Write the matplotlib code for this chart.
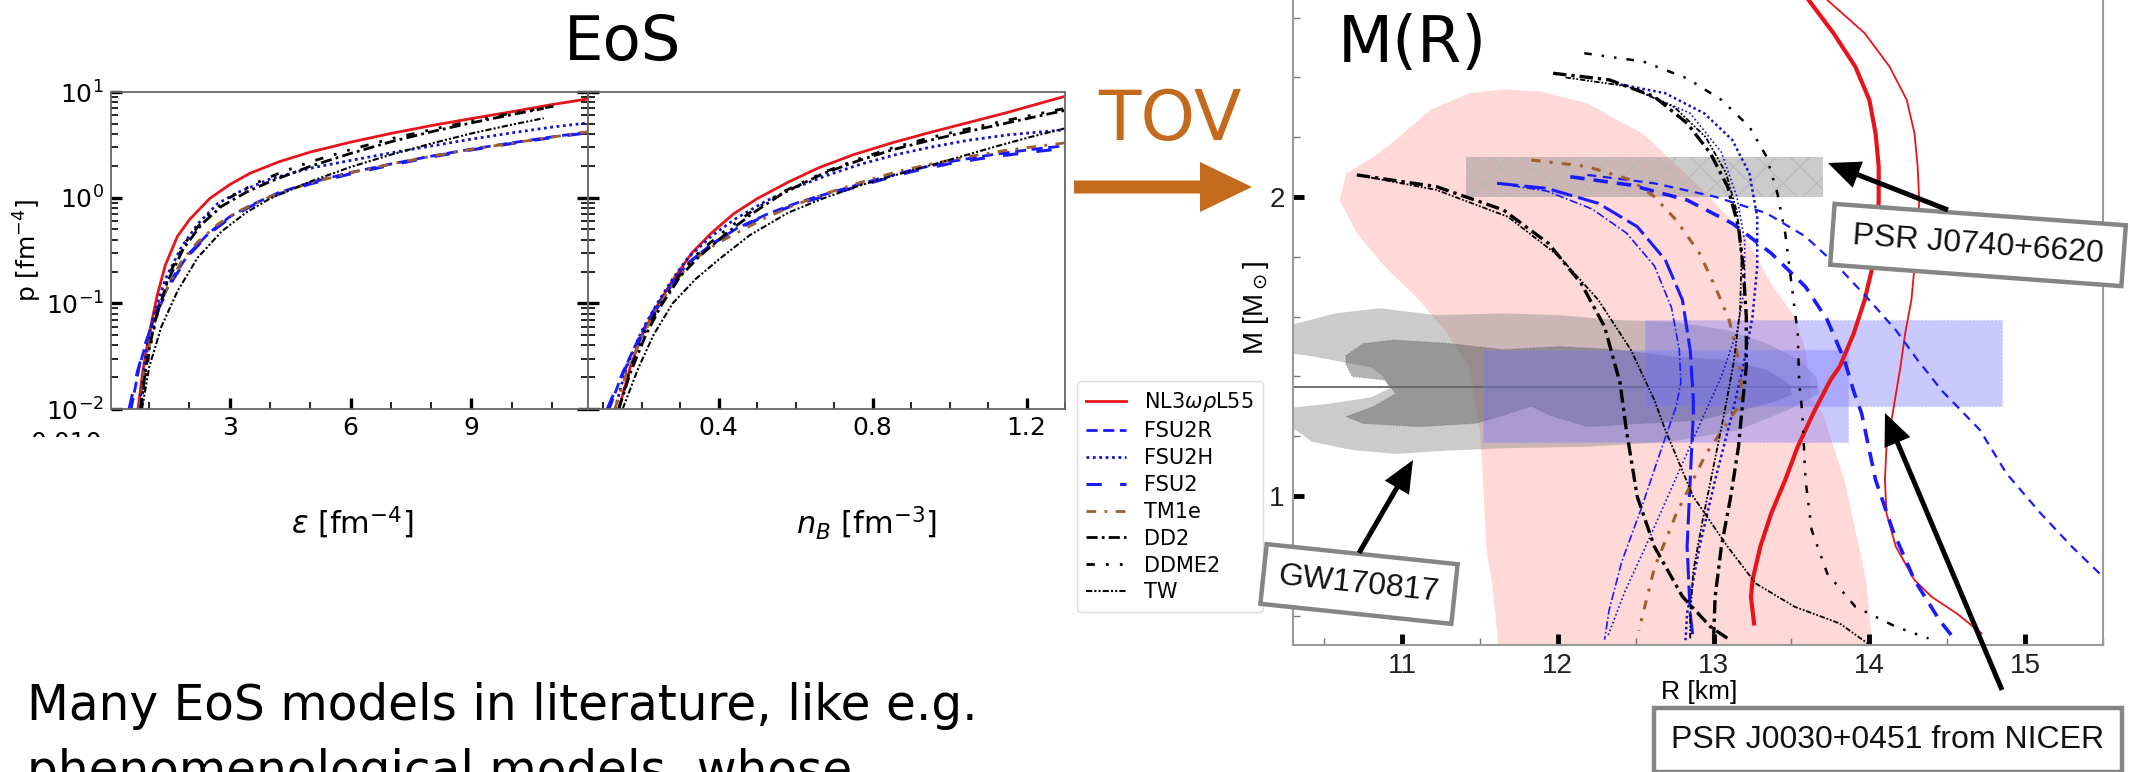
import matplotlib
matplotlib.use("Agg")
import matplotlib.pyplot as plt
from matplotlib.patches import Polygon, Rectangle, FancyArrow
from matplotlib.ticker import MultipleLocator
from matplotlib.transforms import Bbox
import numpy as np

W, H, DPI = 2130, 772, 100

# ---------------------------------------------------------------- EoS data
model_names = ["NL3$\\omega\\rho$L55", "FSU2R", "FSU2H", "FSU2", "TM1e", "DD2", "DDME2", "TW"]

# pressure vs energy density  (eps, p in fm^-4)
eps_NL3 = [0.72, 0.85, 1.0, 1.2, 1.4, 1.7, 2.0, 2.5, 3.0, 3.5, 4.2, 5.0, 6.0, 7.0, 8.0, 9.0, 10.0, 11.0, 11.9]
pe_NL3 = [0.010, 0.024, 0.052, 0.12, 0.23, 0.43, 0.62, 0.98, 1.33, 1.70, 2.17, 2.70, 3.35, 4.05, 4.80, 5.60, 6.50, 7.60, 8.60]
eps_FSU2R = [0.55, 0.75, 0.95, 1.2, 1.6, 2.0, 2.5, 3.0, 3.5, 4.2, 5.0, 6.0, 7.0, 8.0, 9.0, 10.0, 11.0, 11.9]
pe_FSU2R = [0.010, 0.025, 0.046, 0.090, 0.18, 0.30, 0.47, 0.66, 0.84, 1.11, 1.39, 1.73, 2.08, 2.47, 2.88, 3.30, 3.76, 4.18]
eps_FSU2H = [0.75, 0.9, 1.1, 1.4, 1.8, 2.2, 2.7, 3.2, 4.0, 5.0, 6.0, 7.0, 8.0, 9.0, 10.0, 11.0, 11.9]
pe_FSU2H = [0.010, 0.030, 0.075, 0.17, 0.34, 0.56, 0.88, 1.12, 1.50, 1.90, 2.25, 2.65, 3.08, 3.58, 4.10, 4.65, 5.10]
eps_FSU2 = [0.5, 0.7, 0.9, 1.2, 1.6, 2.0, 2.5, 3.0, 3.5, 4.2, 5.0, 6.0, 7.0, 8.0, 9.0, 10.0, 11.0, 11.9]
pe_FSU2 = [0.010, 0.022, 0.041, 0.085, 0.17, 0.29, 0.46, 0.64, 0.82, 1.08, 1.35, 1.68, 2.03, 2.42, 2.83, 3.25, 3.70, 4.12]
eps_TM1e = [0.75, 0.9, 1.1, 1.4, 1.8, 2.2, 2.7, 3.2, 4.0, 5.0, 6.0, 7.0, 8.0, 9.0, 10.0, 11.0, 11.9]
pe_TM1e = [0.010, 0.026, 0.06, 0.13, 0.25, 0.38, 0.56, 0.74, 1.02, 1.38, 1.72, 2.08, 2.46, 2.86, 3.28, 3.74, 4.20]
eps_DD2 = [0.78, 0.95, 1.15, 1.45, 1.85, 2.3, 2.8, 3.4, 4.0, 5.0, 6.0, 7.0, 8.0, 9.0, 10.0, 10.8]
pe_DD2 = [0.010, 0.030, 0.07, 0.16, 0.33, 0.56, 0.83, 1.12, 1.42, 1.98, 2.62, 3.38, 4.20, 5.10, 6.10, 7.00]
eps_DDME2 = [0.8, 1.0, 1.2, 1.5, 1.9, 2.4, 3.0, 3.6, 4.3, 5.0, 6.0, 7.0, 8.0, 9.0, 10.0, 11.2]
pe_DDME2 = [0.010, 0.035, 0.08, 0.19, 0.38, 0.65, 1.0, 1.35, 1.75, 2.18, 2.85, 3.60, 4.40, 5.30, 6.30, 7.50]
eps_TW = [0.82, 1.0, 1.3, 1.7, 2.2, 2.8, 3.4, 4.0, 5.0, 6.0, 7.0, 8.0, 9.0, 10.0, 10.8]
pe_TW = [0.010, 0.025, 0.06, 0.13, 0.27, 0.48, 0.72, 0.98, 1.42, 1.95, 2.55, 3.25, 4.05, 4.90, 5.65]

# pressure vs baryon density  (n_B in fm^-3, p in fm^-4)
nb_NL3 = [0.14, 0.17, 0.20, 0.24, 0.28, 0.33, 0.38, 0.44, 0.50, 0.58, 0.66, 0.75, 0.85, 0.95, 1.05, 1.15, 1.25, 1.30]
pn_NL3 = [0.010, 0.025, 0.050, 0.095, 0.165, 0.30, 0.46, 0.71, 0.98, 1.40, 1.92, 2.55, 3.30, 4.15, 5.15, 6.40, 8.10, 9.10]
nb_FSU2R = [0.115, 0.15, 0.19, 0.23, 0.27, 0.32, 0.38, 0.45, 0.53, 0.61, 0.71, 0.81, 0.91, 1.01, 1.11, 1.21, 1.30]
pn_FSU2R = [0.010, 0.022, 0.045, 0.085, 0.14, 0.24, 0.36, 0.52, 0.71, 0.91, 1.17, 1.49, 1.86, 2.22, 2.55, 2.85, 3.10]
nb_FSU2H = [0.13, 0.16, 0.20, 0.24, 0.28, 0.32, 0.38, 0.44, 0.52, 0.60, 0.68, 0.77, 0.86, 0.95, 1.05, 1.15, 1.30]
pn_FSU2H = [0.010, 0.025, 0.055, 0.10, 0.17, 0.27, 0.43, 0.62, 0.92, 1.25, 1.62, 2.08, 2.55, 3.00, 3.50, 3.92, 4.40]
nb_FSU2 = [0.11, 0.14, 0.18, 0.22, 0.26, 0.31, 0.37, 0.44, 0.52, 0.60, 0.70, 0.80, 0.90, 1.00, 1.10, 1.20, 1.30]
pn_FSU2 = [0.010, 0.018, 0.036, 0.068, 0.12, 0.22, 0.34, 0.49, 0.67, 0.86, 1.10, 1.40, 1.76, 2.10, 2.40, 2.67, 2.93]
nb_TM1e = [0.13, 0.16, 0.20, 0.24, 0.28, 0.33, 0.39, 0.45, 0.52, 0.60, 0.68, 0.77, 0.86, 0.95, 1.05, 1.15, 1.30]
pn_TM1e = [0.010, 0.022, 0.048, 0.09, 0.15, 0.25, 0.36, 0.47, 0.64, 0.86, 1.10, 1.40, 1.75, 2.08, 2.45, 2.82, 3.30]
nb_DD2 = [0.14, 0.17, 0.21, 0.25, 0.30, 0.35, 0.42, 0.49, 0.57, 0.67, 0.76, 0.85, 0.95, 1.05, 1.15, 1.22, 1.30]
pn_DD2 = [0.010, 0.022, 0.05, 0.095, 0.18, 0.28, 0.46, 0.72, 1.12, 1.68, 2.22, 2.83, 3.50, 4.25, 5.10, 5.80, 6.70]
nb_DDME2 = [0.14, 0.17, 0.21, 0.25, 0.30, 0.35, 0.42, 0.49, 0.57, 0.67, 0.76, 0.85, 0.95, 1.05, 1.15, 1.22, 1.30]
pn_DDME2 = [0.010, 0.024, 0.055, 0.10, 0.19, 0.31, 0.50, 0.76, 1.15, 1.72, 2.30, 2.95, 3.70, 4.50, 5.40, 6.10, 7.00]
nb_TW = [0.15, 0.19, 0.23, 0.28, 0.34, 0.40, 0.48, 0.58, 0.67, 0.76, 0.85, 0.94, 1.03, 1.12, 1.21, 1.30]
pn_TW = [0.010, 0.024, 0.05, 0.10, 0.17, 0.26, 0.44, 0.72, 0.98, 1.28, 1.60, 1.98, 2.45, 3.05, 3.75, 4.53]

# ---------------------------------------------------------------- M(R) data
R_nl3 = [13.50, 13.61, 13.77, 13.91, 14.00, 14.04, 14.06, 14.06, 14.05, 14.02, 13.97, 13.90, 13.81, 13.75, 13.64, 13.54, 13.46, 13.37, 13.30, 13.25, 13.24, 13.26]
M_nl3 = [2.75, 2.659, 2.548, 2.436, 2.325, 2.213, 2.102, 1.990, 1.879, 1.767, 1.656, 1.544, 1.433, 1.388, 1.277, 1.165, 1.054, 0.942, 0.831, 0.719, 0.663, 0.574]
R_nl3_y = [13.62, 13.73, 13.97, 14.13, 14.24, 14.29, 14.31, 14.32, 14.31, 14.29, 14.27, 14.23, 14.20, 14.17, 14.15, 14.11, 14.10, 14.11, 14.17, 14.29, 14.40, 14.56, 14.72]
M_nl3_y = [2.75, 2.659, 2.548, 2.436, 2.325, 2.213, 2.102, 1.990, 1.879, 1.767, 1.656, 1.544, 1.433, 1.340, 1.277, 1.165, 1.054, 0.942, 0.831, 0.719, 0.663, 0.608, 0.541]
R_fsu2r = [12.08, 12.47, 12.83, 13.12, 13.37, 13.59, 13.73, 13.84, 13.90, 13.95, 14.04, 14.15, 14.29, 14.45, 14.56]
M_fsu2r = [2.068, 2.040, 1.990, 1.912, 1.812, 1.700, 1.589, 1.455, 1.350, 1.277, 1.054, 0.886, 0.719, 0.585, 0.513]
R_fsu2r_y = [12.19, 12.62, 13.01, 13.34, 13.59, 13.80, 13.98, 14.17, 14.31, 14.47, 14.71, 14.88, 15.10, 15.30, 15.50]
M_fsu2r_y = [2.074, 2.046, 2.001, 1.946, 1.868, 1.767, 1.667, 1.555, 1.455, 1.350, 1.221, 1.076, 0.942, 0.831, 0.73]
R_fsu2 = [11.61, 11.93, 12.26, 12.51, 12.69, 12.80, 12.85, 12.87, 12.87, 12.85, 12.83, 12.85, 12.87]
M_fsu2 = [2.046, 2.029, 1.979, 1.901, 1.790, 1.656, 1.488, 1.321, 1.277, 1.054, 0.831, 0.608, 0.518]
R_fsu2_y = [11.61, 11.93, 12.22, 12.44, 12.62, 12.73, 12.78, 12.79, 12.76, 12.66, 12.53, 12.41, 12.33, 12.30]
M_fsu2_y = [2.046, 2.02, 1.96, 1.88, 1.77, 1.63, 1.49, 1.38, 1.30, 1.15, 0.95, 0.78, 0.62, 0.52]
R_fsu2h = [12.37, 12.69, 12.94, 13.12, 13.23, 13.28, 13.28, 13.25, 13.19, 13.12, 13.01, 12.91, 12.83, 12.82]
M_fsu2h = [2.38, 2.347, 2.280, 2.191, 2.079, 1.934, 1.767, 1.600, 1.433, 1.277, 1.054, 0.831, 0.608, 0.518]
R_fsu2h_y = [12.50, 12.85, 13.05, 13.15, 13.20, 13.20, 13.15, 13.05, 12.92, 12.75, 12.58, 12.43, 12.32]
M_fsu2h_y = [2.36, 2.28, 2.15, 2.00, 1.85, 1.70, 1.55, 1.40, 1.25, 1.05, 0.85, 0.68, 0.53]
R_tm1e = [11.83, 12.19, 12.47, 12.62, 12.76, 12.91, 13.01, 13.10, 13.16, 13.18, 13.16, 12.95, 12.76, 12.62, 12.52]
M_tm1e = [2.124, 2.102, 2.057, 2.001, 1.923, 1.812, 1.700, 1.589, 1.455, 1.36, 1.30, 1.14, 0.94, 0.76, 0.55]
R_dd2 = [11.97, 12.33, 12.62, 12.83, 12.98, 13.09, 13.16, 13.19, 13.21, 13.21, 13.19, 13.16, 13.11, 13.05, 13.01, 13.00]
M_dd2 = [2.414, 2.392, 2.336, 2.247, 2.146, 2.035, 1.901, 1.767, 1.600, 1.433, 1.332, 1.165, 0.998, 0.831, 0.664, 0.524]
R_ddme2 = [12.17, 12.55, 12.83, 13.05, 13.23, 13.34, 13.41, 13.46, 13.50, 13.54, 13.55, 13.57, 13.59, 13.63, 13.73, 13.91, 14.17, 14.38]
M_ddme2 = [2.481, 2.453, 2.397, 2.325, 2.235, 2.135, 2.012, 1.879, 1.711, 1.544, 1.377, 1.277, 1.054, 0.886, 0.741, 0.630, 0.563, 0.524]
R_tw = [12.05, 12.45, 12.75, 12.95, 13.08, 13.15, 13.18, 13.17, 13.13, 13.07, 13.00, 12.93, 12.87, 12.85, 12.85]
M_tw = [2.40, 2.37, 2.30, 2.20, 2.08, 1.95, 1.80, 1.62, 1.45, 1.28, 1.10, 0.92, 0.75, 0.60, 0.52]
R_dd2_s = [10.71, 11.22, 11.65, 11.94, 12.15, 12.30, 12.40, 12.44, 12.51, 12.62, 12.80, 12.98, 13.09]
M_dd2_s = [2.074, 2.035, 1.957, 1.845, 1.711, 1.567, 1.377, 1.221, 0.998, 0.831, 0.664, 0.563, 0.524]
R_tw_s = [10.71, 11.22, 11.68, 12.01, 12.26, 12.47, 12.62, 12.69, 12.87, 13.09, 13.27, 13.52, 13.81, 13.99]
M_tw_s = [2.074, 2.024, 1.934, 1.801, 1.656, 1.488, 1.321, 1.221, 0.998, 0.831, 0.708, 0.630, 0.574, 0.507]

# observational constraints
pink_R = [11.65, 11.90, 12.19, 12.55, 12.91, 13.19, 13.37, 13.52, 13.59, 13.63, 13.70, 13.77, 13.84, 13.91, 13.98, 14.01, 14.02,
          11.63, 11.61, 11.58, 11.54, 11.52, 11.50, 11.43, 11.29, 11.11, 10.89, 10.71, 10.60, 10.64, 10.82, 10.96, 11.18, 11.43]
pink_M = [2.360, 2.352, 2.313, 2.21, 2.035, 1.88, 1.71, 1.60, 1.49, 1.32, 1.277, 1.165, 1.054, 0.886, 0.719, 0.55, 0.40,
          0.40, 0.55, 0.70, 0.831, 1.054, 1.221, 1.433, 1.544, 1.656, 1.767, 1.879, 1.990, 2.079, 2.135, 2.191, 2.291, 2.347]
gw90_R = [10.20, 10.57, 10.86, 11.22, 11.65, 12.01, 12.37, 12.73, 13.09, 13.34, 13.55, 13.66, 13.68, 13.63, 13.48, 13.16, 12.73, 12.19,
          11.65, 11.29, 10.96, 10.68, 10.42, 10.32, 10.20, 10.20, 10.55, 10.80, 10.92, 10.88, 10.80, 10.60, 10.40, 10.20]
gw90_M = [1.56, 1.611, 1.628, 1.605, 1.611, 1.605, 1.589, 1.583, 1.555, 1.511, 1.455, 1.399, 1.344, 1.330, 1.288, 1.221, 1.182, 1.165,
          1.160, 1.152, 1.141, 1.154, 1.182, 1.221, 1.23, 1.29, 1.31, 1.33, 1.36, 1.40, 1.43, 1.45, 1.47, 1.48]
gw50_R = [10.64, 10.75, 10.95, 11.29, 11.65, 12.01, 12.37, 12.73, 13.09, 13.34, 13.48, 13.50, 13.41, 13.19, 12.91, 12.55, 12.19, 11.95,
          11.83, 11.65, 11.47, 11.11, 10.75, 10.64, 10.82, 10.96, 10.89, 10.68, 10.64]
gw50_M = [1.47, 1.51, 1.522, 1.511, 1.49, 1.50, 1.49, 1.466, 1.455, 1.421, 1.377, 1.34, 1.32, 1.288, 1.254, 1.243, 1.232, 1.27,
          1.30, 1.27, 1.243, 1.232, 1.243, 1.266, 1.30, 1.343, 1.388, 1.40, 1.44]
gw_chirp_R = [10.30, 13.66]
gw_chirp_M = [1.366, 1.366]
j0740_R = [11.41, 13.70]
j0740_M = [2.001, 2.135]
nicer_a_R = [11.52, 13.86]
nicer_a_M = [1.182, 1.488]
nicer_b_R = [12.56, 14.85]
nicer_b_M = [1.30, 1.589]

# ---------------------------------------------------------------- styles
BLUE = "#1a1aff"
DBLUE = "#1010c8"
BROWN = "#a0602a"
RED = "#e8141b"
styles = {
    "NL3": dict(color=RED, lw=2.0, ls="-"),
    "FSU2R": dict(color=BLUE, lw=2.0, dashes=(4, 2)),
    "FSU2H": dict(color=DBLUE, lw=2.0, dashes=(1, 1.3)),
    "FSU2": dict(color=BLUE, lw=2.2, dashes=(5, 6)),
    "TM1e": dict(color=BROWN, lw=2.0, dashes=(3.5, 3, 1, 3)),
    "DD2": dict(color="black", lw=2.0, dashes=(4, 1.5, 1, 1.5)),
    "DDME2": dict(color="black", lw=2.0, dashes=(3, 4, 1, 4, 1, 4)),
    "TW": dict(color="black", lw=1.5, dashes=(3, 1, 1, 1, 1, 1)),
}
eos_eps = [(eps_NL3, pe_NL3), (eps_FSU2R, pe_FSU2R), (eps_FSU2H, pe_FSU2H), (eps_FSU2, pe_FSU2),
           (eps_TM1e, pe_TM1e), (eps_DD2, pe_DD2), (eps_DDME2, pe_DDME2), (eps_TW, pe_TW)]
eos_nb = [(nb_NL3, pn_NL3), (nb_FSU2R, pn_FSU2R), (nb_FSU2H, pn_FSU2H), (nb_FSU2, pn_FSU2),
          (nb_TM1e, pn_TM1e), (nb_DD2, pn_DD2), (nb_DDME2, pn_DDME2), (nb_TW, pn_TW)]
style_keys = ["NL3", "FSU2R", "FSU2H", "FSU2", "TM1e", "DD2", "DDME2", "TW"]

fig = plt.figure(figsize=(W / DPI, H / DPI), dpi=DPI)
fig.patch.set_facecolor("white")


def frame(x0, y0, x1, y1):
    return [x0 / W, 1 - y1 / H, (x1 - x0) / W, (y1 - y0) / H]


ax1 = fig.add_axes(frame(111, 92, 588, 409))
ax2 = fig.add_axes(frame(588, 92, 1065, 409))
for ax in (ax1, ax2):
    ax.set_yscale("log")
    ax.set_ylim(1e-2, 1e1)
    ax.tick_params(which="both", direction="in", labelsize=18, top=False, pad=5)
    ax.tick_params(which="major", length=8, width=2.4)
    ax.tick_params(which="minor", length=5, width=1.2)
    for s in ax.spines.values():
        s.set_color("#666666")
        s.set_linewidth(1.3)
ax1.tick_params(axis="y", which="both", left=True, right=True)
ax2.tick_params(axis="y", which="both", left=True, right=False, labelleft=False)
ax1.set_xlim(0.05, 11.9)
ax1.xaxis.set_major_locator(MultipleLocator(3))
ax1.xaxis.set_minor_locator(MultipleLocator(1))
ax2.set_xlim(0.06, 1.30)
ax2.xaxis.set_major_locator(MultipleLocator(0.4))
ax2.xaxis.set_minor_locator(MultipleLocator(0.1))

handles = []
for key, name, (x, y), (xn, yn) in zip(style_keys, model_names, eos_eps, eos_nb):
    st = styles[key]
    ln, = ax1.plot(x, y, label=name, **st)
    ax2.plot(xn, yn, **st)
    handles.append(ln)

fig.legend(handles=handles, loc="upper left", bbox_to_anchor=(1077 / W, 1 - 381 / H),
           bbox_transform=fig.transFigure, fontsize=15, frameon=True, fancybox=True,
           edgecolor="#dddddd", framealpha=1, handlelength=1.9, handletextpad=0.85,
           labelspacing=0.33, borderpad=0.45, borderaxespad=0)

# ---------------------------------------------------------------- M(R) panel
ax3 = fig.add_axes(frame(1293, 0, 2103, 645))
ax3.set_xlim(10.3, 15.5)
ax3.set_ylim(0.502, 2.659)
ax3.spines["top"].set_visible(False)
for s in ("left", "right", "bottom"):
    ax3.spines[s].set_color("#9a9a9a")
    ax3.spines[s].set_linewidth(1.5)
ax3.xaxis.set_major_locator(MultipleLocator(1))
ax3.xaxis.set_minor_locator(MultipleLocator(0.5))
ax3.yaxis.set_major_locator(MultipleLocator(1))
ax3.yaxis.set_minor_locator(MultipleLocator(0.2))
ax3.tick_params(which="both", direction="in", top=False, right=False, labelsize=20,
                labelfontfamily="Liberation Sans", labelcolor="#222222", pad=6)
ax3.tick_params(which="major", length=8, width=3.5, color="black")
ax3.tick_params(which="minor", length=5, width=1.0, color="#777777")

ax3.add_patch(Polygon(np.column_stack([pink_R, pink_M]), closed=True, facecolor=(1.0, 0.72, 0.72),
                      alpha=0.55, edgecolor="none", zorder=1))
ax3.add_patch(Polygon(np.column_stack([gw90_R, gw90_M]), closed=True, facecolor=(0.55, 0.55, 0.55),
                      alpha=0.45, edgecolor="none", zorder=2))
ax3.add_patch(Polygon(np.column_stack([gw50_R, gw50_M]), closed=True, facecolor=(0.35, 0.35, 0.35),
                      alpha=0.45, edgecolor="#555555", ls=":", lw=0.8, zorder=2.2))
ax3.plot(gw_chirp_R, gw_chirp_M, color="#666666", lw=1.3, zorder=2.3)
plt.rcParams["hatch.linewidth"] = 0.8
ax3.add_patch(Rectangle((j0740_R[0], j0740_M[0]), j0740_R[1] - j0740_R[0], j0740_M[1] - j0740_M[0],
                        facecolor=(0.55, 0.55, 0.55), alpha=0.45, edgecolor="none", zorder=2.5))
ax3.add_patch(Rectangle((j0740_R[0], j0740_M[0]), j0740_R[1] - j0740_R[0], j0740_M[1] - j0740_M[0],
                        facecolor="none", hatch="x", edgecolor=(0.72, 0.72, 0.72), lw=0, zorder=2.6))
for Rr, Mr in ((nicer_a_R, nicer_a_M), (nicer_b_R, nicer_b_M)):
    ax3.add_patch(Rectangle((Rr[0], Mr[0]), Rr[1] - Rr[0], Mr[1] - Mr[0], facecolor=(0.45, 0.45, 1.0),
                            alpha=0.38, edgecolor=(0.6, 0.6, 0.9), ls=":", lw=1.0, zorder=3))

mr_curves = [
    (R_nl3, M_nl3, dict(color=RED, lw=3.0, ls="-")),
    (R_nl3_y, M_nl3_y, dict(color=RED, lw=1.3, ls="-")),
    (R_fsu2r, M_fsu2r, dict(color=BLUE, lw=2.6, dashes=(4, 2.5))),
    (R_fsu2r_y, M_fsu2r_y, dict(color=BLUE, lw=1.6, dashes=(4, 3))),
    (R_fsu2, M_fsu2, dict(color=BLUE, lw=2.2, dashes=(7, 2))),
    (R_fsu2_y, M_fsu2_y, dict(color=BLUE, lw=1.2, dashes=(5, 1.5, 1, 1.5))),
    (R_fsu2h, M_fsu2h, dict(color=DBLUE, lw=1.8, dashes=(1, 1.2))),
    (R_fsu2h_y, M_fsu2h_y, dict(color=DBLUE, lw=1.2, dashes=(1, 1.5))),
    (R_tm1e, M_tm1e, dict(color=BROWN, lw=2.2, dashes=(3, 3, 1, 3))),
    (R_dd2, M_dd2, dict(color="black", lw=2.4, dashes=(4, 1.5, 1, 1.5))),
    (R_dd2_s, M_dd2_s, dict(color="black", lw=2.4, dashes=(4, 1.5, 1, 1.5))),
    (R_ddme2, M_ddme2, dict(color="black", lw=1.8, dashes=(3, 4, 1, 4, 1, 4))),
    (R_tw, M_tw, dict(color="black", lw=1.3, dashes=(3, 1, 1, 1, 1, 1))),
    (R_tw_s, M_tw_s, dict(color="black", lw=1.3, dashes=(3, 1, 1, 1, 1, 1))),
]
for Rc, Mc, st in mr_curves:
    ax3.plot(Rc, Mc, zorder=4, **st)

# ---------------------------------------------------------------- slide overlay (pixel coordinates)
ov = fig.add_axes([0, 0, 1, 1], zorder=20)
ov.set_xlim(0, W)
ov.set_ylim(H, 0)
ov.axis("off")
ov.patch.set_alpha(0)

ov.text(623, 60, "EoS", fontsize=45, ha="center", va="baseline")
ov.text(1412, 62, "M(R)", fontsize=46, ha="center", va="baseline")
ORANGE = "#c46a1c"
ov.text(1170, 140, "TOV", fontsize=50, ha="center", va="baseline", color=ORANGE)
ov.add_patch(FancyArrow(1074, 187, 178, 0, width=13, head_width=50, head_length=52,
                        length_includes_head=True, color=ORANGE, lw=0))

ov.text(28, 250, "p [fm$^{-4}$]", fontsize=18, rotation=90, ha="center", va="center")
ov.text(352, 523, "$\\varepsilon$ [fm$^{-4}$]", fontsize=22, ha="center", va="center")
ov.text(866, 523, "$n_B$ [fm$^{-3}$]", fontsize=22, ha="center", va="center")
t010 = ov.text(66, 431, "0.010", fontsize=18, ha="center", va="top")
t010.set_clip_box(Bbox.from_extents(0, H - 437, 200, H - 420))
t010.set_clip_on(True)

ov.text(1256, 308, "M [M$_\\odot$]", fontsize=20, rotation=90, ha="center", va="center",
        family="Liberation Sans")
ov.text(1699, 692, "R [km]", fontsize=19, ha="center", va="center", family="Liberation Sans")

ov.text(27, 720, "Many EoS models in literature, like e.g.", fontsize=35, ha="left", va="baseline")
ov.text(27, 786, "phenomenological models, whose", fontsize=35, ha="left", va="baseline")


def tilted_box(cx, cy, w, h, ang):
    a = np.deg2rad(ang)
    pts = []
    for dx, dy in ((-w / 2, -h / 2), (w / 2, -h / 2), (w / 2, h / 2), (-w / 2, h / 2)):
        pts.append((cx + dx * np.cos(a) - dy * np.sin(a), cy + dx * np.sin(a) + dy * np.cos(a)))
    return pts


BOX_EDGE = "#858585"
for cx, cy, w, h, ang, label in ((1978, 245, 292, 61, 4.2, "PSR J0740+6620"),
                                 (1359, 584, 192, 60, 6.0, "GW170817"),
                                 (1888, 740, 468, 64, 0.0, "PSR J0030+0451 from NICER")):
    ov.add_patch(Polygon(tilted_box(cx, cy, w, h, ang), closed=True, facecolor="white",
                         edgecolor=BOX_EDGE, lw=3.2))
    ov.text(cx, cy, label, fontsize=23, rotation=-ang, rotation_mode="anchor", ha="center",
            va="center", family="Liberation Sans", color="#111111")

for (x0, y0), (x1, y1) in (((1948, 210), (1828, 163)),
                           ((1359, 553), (1413, 460)),
                           ((2002, 690), (1885, 413))):
    ov.add_patch(FancyArrow(x0, y0, x1 - x0, y1 - y0, width=5, head_width=28, head_length=32,
                            length_includes_head=True, color="black", lw=0))

fig.savefig("out.png", dpi=DPI, facecolor="white")
